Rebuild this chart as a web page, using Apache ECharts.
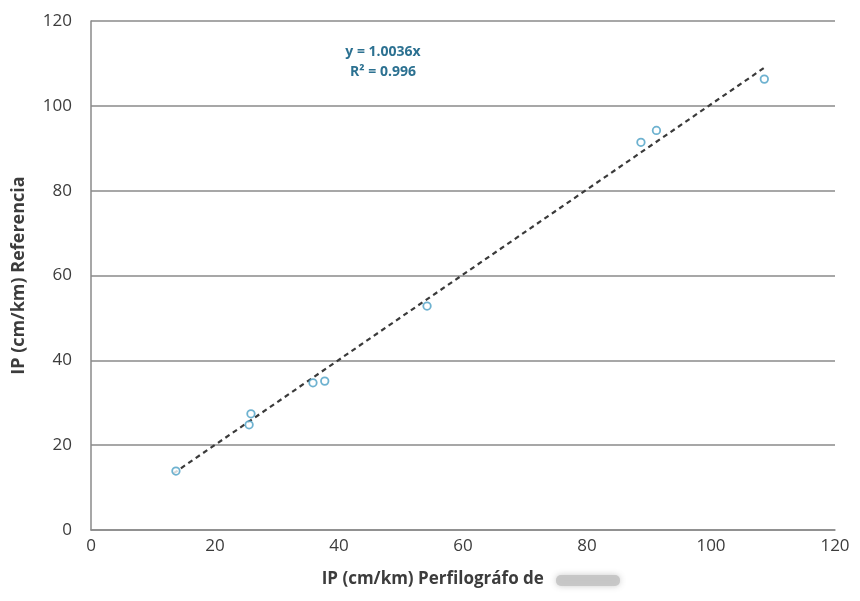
<!DOCTYPE html>
<html>
<head>
<meta charset="utf-8">
<script src="https://cdn.jsdelivr.net/npm/echarts@6/dist/echarts.min.js"></script>
<style>
  html, body { margin: 0; padding: 0; background: #ffffff; }
  #chart { width: 860px; height: 601px; }
</style>
</head>
<body>
<div id="chart"></div>
<script>
// Profilograph index readings vs. reference values (cm/km)
const perfilografo = [13.7, 25.5, 25.8, 35.8, 37.7, 54.2, 88.7, 91.2, 108.6];
const referencia   = [13.9, 24.8, 27.4, 34.7, 35.1, 52.8, 91.4, 94.2, 106.3];

// Linear fit through the origin
const slope = 1.0036;
const rSquared = 0.996;
const trendRange = [13.3, 108.5];

const xTicks = [0, 20, 40, 60, 80, 100, 120];
const yTicks = [0, 20, 40, 60, 80, 100, 120];

const points = perfilografo.map((x, i) => [x, referencia[i]]);
const trend = trendRange.map(x => [x, slope * x]);

const chart = echarts.init(document.getElementById('chart'));
const font = '"Open Sans", Lato, sans-serif';

chart.setOption({
  backgroundColor: '#ffffff',
  animation: false,
  grid: { left: 91, right: 25, top: 21, bottom: 71 },
  xAxis: {
    type: 'value',
    min: xTicks[0], max: xTicks[xTicks.length - 1], interval: 20,
    name: 'IP (cm/km) Perfilográfo de ',
    nameLocation: 'middle', nameGap: 41,
    nameTextStyle: { fontFamily: font, fontWeight: 'bold', fontSize: 17, color: '#3c3c3c', padding: [0, 56, 0, 0] },
    axisLine: { show: true, lineStyle: { color: '#8a8a8a', width: 1.5 } },
    axisTick: { show: false },
    splitLine: { show: false },
    axisLabel: { fontFamily: font, fontSize: 17, color: '#3c3c3c', margin: 8 }
  },
  yAxis: {
    type: 'value',
    min: yTicks[0], max: yTicks[yTicks.length - 1], interval: 20,
    name: 'IP (cm/km) Referencia',
    nameLocation: 'middle', nameGap: 63,
    nameTextStyle: { fontFamily: font, fontWeight: 'bold', fontSize: 18, color: '#3c3c3c' },
    axisLine: { show: true, lineStyle: { color: '#8a8a8a', width: 1.5 } },
    axisTick: { show: false },
    splitLine: { show: true, lineStyle: { color: '#8a8a8a', width: 1.5 } },
    axisLabel: { fontFamily: font, fontSize: 17, color: '#3c3c3c', margin: 19 }
  },
  graphic: [
    {
      type: 'text', x: 383, y: 52,
      style: {
        text: 'y = ' + slope.toFixed(4) + 'x',
        font: 'bold 14px ' + font, fill: '#2c7191', align: 'center', verticalAlign: 'middle'
      }
    },
    {
      type: 'text', x: 383, y: 72,
      style: {
        text: 'R² = ' + rSquared.toFixed(3),
        font: 'bold 14px ' + font, fill: '#2c7191', align: 'center', verticalAlign: 'middle'
      }
    },
    {
      type: 'rect', shape: { x: 556, y: 575, width: 64, height: 11, r: 5 },
      style: { fill: '#c4c4c4', shadowBlur: 6, shadowColor: '#c4c4c4', opacity: 0.9 }
    }
  ],
  series: [
    {
      type: 'line', data: trend, symbol: 'none', silent: true, z: 1,
      lineStyle: { color: '#3a3a3a', width: 2.2, type: [5, 4] }
    },
    {
      type: 'scatter', data: points, symbol: 'circle', symbolSize: 7.5, z: 3,
      itemStyle: { color: '#ffffff', borderColor: '#4a9fc4', borderWidth: 1.8 }
    }
  ]
});
</script>
</body>
</html>
